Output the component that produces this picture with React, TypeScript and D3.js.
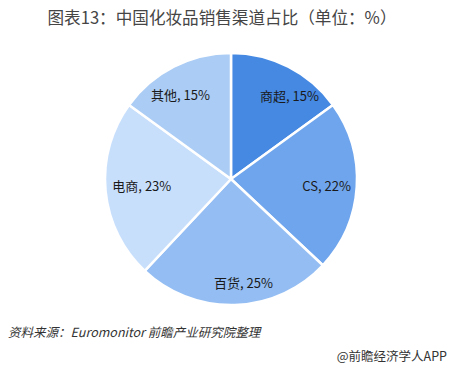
import React from "react";
import * as d3 from "d3";

const categories = ["商超", "CS", "百货", "电商", "其他"];
const values = [15, 22, 25, 23, 15];
const colors = ["#4589E3", "#6FA5EC", "#94BEF3", "#C8DFFC", "#ABCCF4"];
const labelRadiusFactor = [0.81, 0.76, 0.83, 0.71, 0.78];
const labelAngleShiftDeg = [8, 0, -5, 1, -4];

const W = 451;
const H = 370;
const cx = 231;
const cy = 179;
const R = 126;

export default function App() {
  const pie = d3.pie<number>().sort(null).value((d) => d)(values);
  const arc = d3.arc<d3.PieArcDatum<number>>().innerRadius(0).outerRadius(R);
  return (
    <svg
      width={W}
      height={H}
      style={{ position: "absolute", left: 0, top: 0, background: "#fff" }}
      fontFamily="'Noto Sans CJK SC', 'Microsoft YaHei', sans-serif"
    >
      <text x={222} y={24} textAnchor="middle" fontSize={16.6} fill="#454545">
        图表13：中国化妆品销售渠道占比（单位：%）
      </text>
      <g transform={`translate(${cx},${cy})`}>
        {pie.map((p, i) => (
          <path key={i} d={arc(p) || ""} fill={colors[i]} stroke="#fff" strokeWidth={2.5} />
        ))}
        {pie.map((p, i) => {
          const a = (p.startAngle + p.endAngle) / 2 + (labelAngleShiftDeg[i] * Math.PI) / 180;
          const r = R * labelRadiusFactor[i];
          const x = Math.sin(a) * r;
          const y = -Math.cos(a) * r;
          return (
            <text key={"l" + i} x={x} y={y} textAnchor="middle" dominantBaseline="central" fontSize={13} fill="#1a1a1a">
              {categories[i]}, {values[i]}%
            </text>
          );
        })}
      </g>
      <text x={8} y={337} fontSize={12.5} fontStyle="italic" fill="#333">
        资料来源：Euromonitor  前瞻产业研究院整理
      </text>
      <text x={447} y={361} textAnchor="end" fontSize={12.5} fill="#333">
        @前瞻经济学人APP
      </text>
    </svg>
  );
}
